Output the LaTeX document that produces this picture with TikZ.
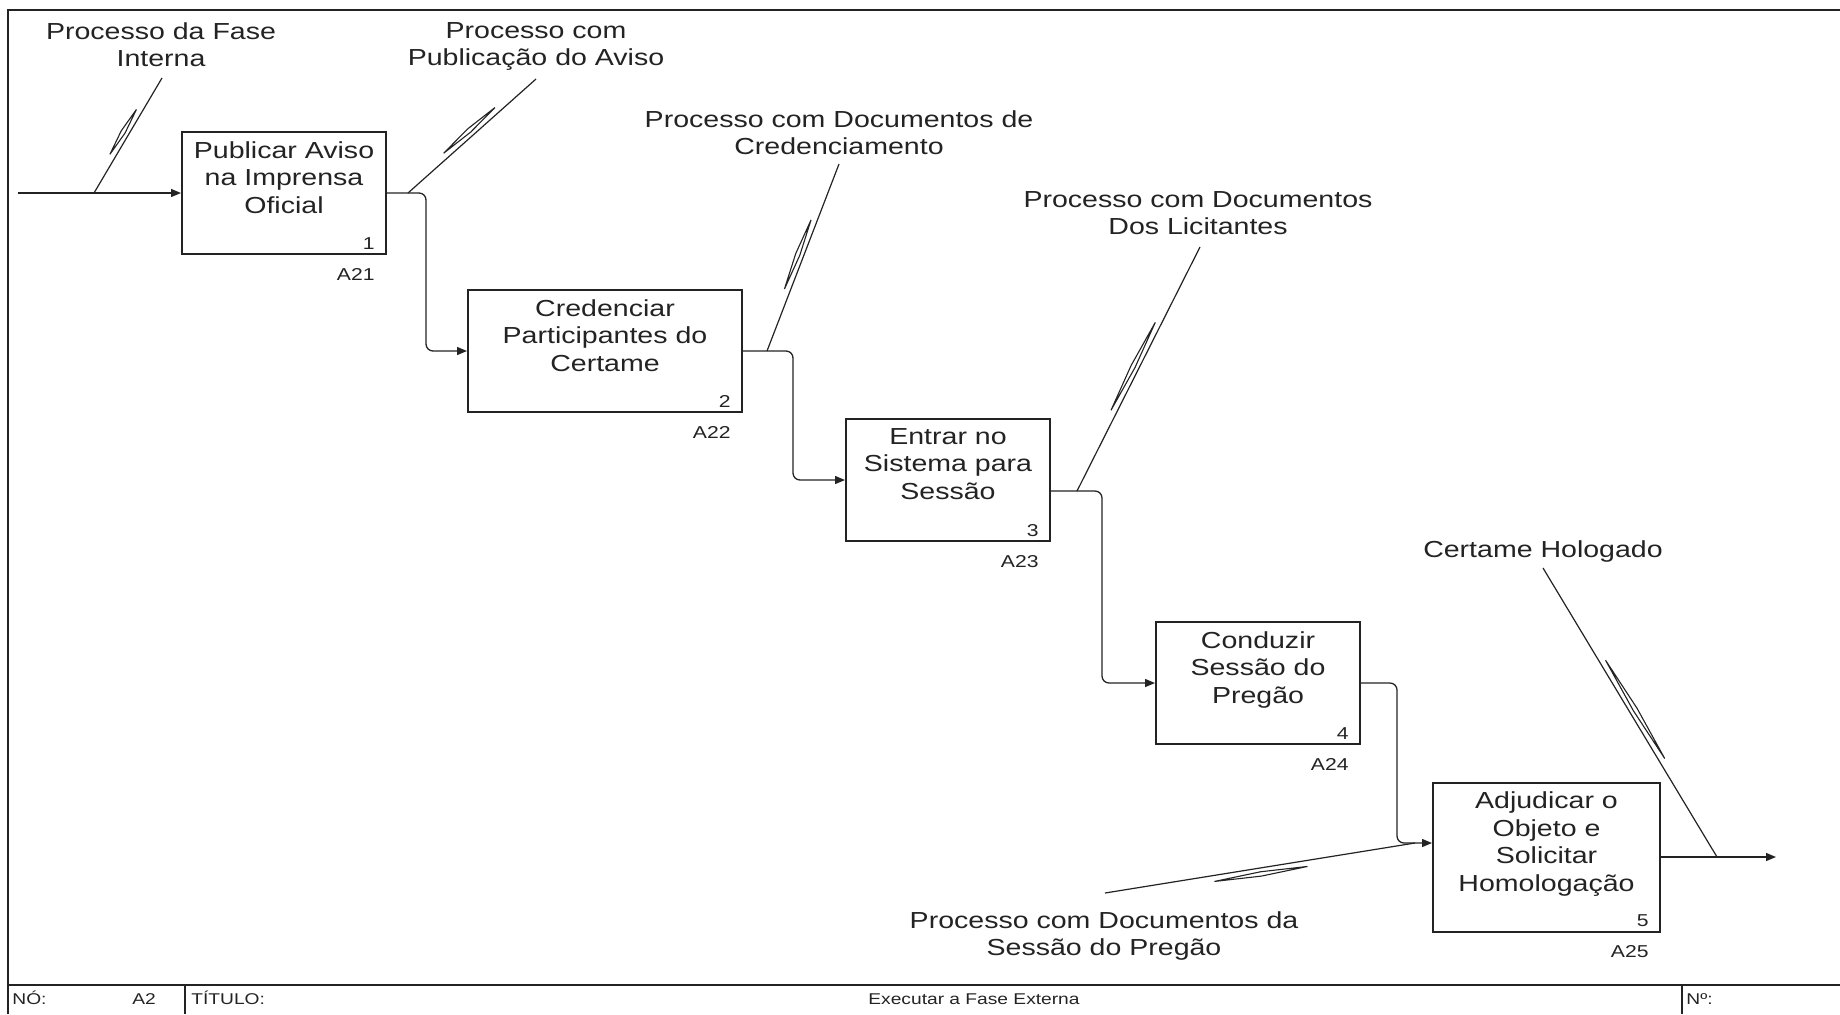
\documentclass[tikz,border=0pt]{standalone}
\usepackage{fontspec}
\setmainfont{Liberation Sans}[FakeStretch=1.23]
\usetikzlibrary{arrows.meta,calc}
\definecolor{ink}{RGB}{35,35,35}
% IDEF0 tunnel mark: a thin needle set beside a leader line
% #1,#2 = leader ends, #3,#4 = fractions along it, #5 = side (90 or -90)
\newcommand\tunnelmark[5]{%
  \coordinate (tA) at ($(#1)!#3!(#2)!3pt!#5:(#2)$);
  \coordinate (tB) at ($(#1)!#4!(#2)!3pt!#5:(#2)$);
  \draw[tunnel] (tA) -- ($(tA)!.5!(tB)!1.1pt!90:(tB)$) -- (tB)
    -- ($(tA)!.5!(tB)!1.1pt!-90:(tB)$) -- cycle;}
\begin{document}
\begin{tikzpicture}[x=0.5pt,y=-0.5pt,
  act/.style={draw=ink, line width=1pt, inner sep=0pt, minimum width=102pt, minimum height=61pt},
  acttext/.style={font=\fontsize{11.6}{13.75}\selectfont, align=center, inner sep=0pt, anchor=north, text=ink},
  lbl/.style={font=\fontsize{11.6}{13.75}\selectfont, align=center, inner sep=0pt, anchor=north, text=ink},
  num/.style={font=\fontsize{8.6}{10}\selectfont, inner sep=0pt, anchor=base east, text=ink},
  foot/.style={font=\fontsize{7.8}{9}\selectfont, inner sep=0pt, anchor=base west, text=ink},
  flow/.style={draw=ink, line width=0.65pt, rounded corners=3.5pt, -{Triangle[length=5pt,width=4pt]}},
  leader/.style={draw=ink, line width=0.6pt},
  tunnel/.style={draw=ink, line width=0.55pt, line join=miter},
  frame/.style={draw=ink, line width=1pt}]
\useasboundingbox (0,0) rectangle (1840,1014);

% sheet frame and title block
\draw[frame] (8,1014) -- (8,10) -- (1840,10);
\draw[frame] (8,985) -- (1840,985);
\draw[frame] (185,985) -- (185,1014);
\draw[frame] (1682,985) -- (1682,1014);
\node[foot] (fno) at (12,1004) {NÓ:};
\node[foot, anchor=base] (fnode) at (144,1004) {A2};
\node[foot] (ftit) at (191,1004) {TÍTULO:};
\node[foot, anchor=base] (ftitle) at (974,1004) {Executar a Fase Externa};
\node[foot] (fnum) at (1686,1004) {Nº:};

% activity boxes
\node[act] (b1) at (284,193) {};
\node[act, minimum width=137pt] (b2) at (605,351) {};
\node[act] (b3) at (948,480) {};
\node[act] (b4) at (1258,683) {};
\node[act, minimum width=113.5pt, minimum height=74.5pt] (b5) at (1546.5,857) {};

\node[acttext] (t1) at ($(b1.north)+(0,10)$) {Publicar Aviso\\na Imprensa\\Oficial};
\node[acttext] (t2) at ($(b2.north)+(0,10)$) {Credenciar\\Participantes do\\Certame};
\node[acttext] (t3) at ($(b3.north)+(0,10)$) {Entrar no\\Sistema para\\Sessão};
\node[acttext] (t4) at ($(b4.north)+(0,10)$) {Conduzir\\Sessão do\\Pregão};
\node[acttext] (t5) at ($(b5.north)+(0,10)$) {Adjudicar o\\Objeto e\\Solicitar\\Homologação};

\foreach \b/\n in {b1/1,b2/2,b3/3,b4/4,b5/5}{
  \node[num] (\b-n) at ($(\b.south east)+(-12,-6)$) {\n};
  \node[num] (\b-a) at ($(\b.south east)+(-12,25)$) {A2\n};
}

% arrow labels
\node[lbl] (l1) at (161,22) {Processo da Fase\\Interna};
\node[lbl] (l2) at (536,22) {Processo com\\Publicação do Aviso};
\node[lbl] (l3) at (839,110) {Processo com Documentos de\\Credenciamento};
\node[lbl] (l4) at (1198,191) {Processo com Documentos\\Dos Licitantes};
\node[lbl] (l5) at (1104,911) {Processo com Documentos da\\Sessão do Pregão};
\node[lbl] (l6) at (1543,540) {Certame Hologado};

% connector end points
\coordinate (in) at (18,193);
\coordinate (out) at (1776,857);
\coordinate (j1) at (94,193);
\coordinate (j2) at (408,193);
\coordinate (j3) at (767,351);
\coordinate (j4) at (1077,491);
\coordinate (j5) at (1415,843);
\coordinate (j6) at (1717,857);
\coordinate (c1) at (162,78);
\coordinate (c2) at (536,79);
\coordinate (c3) at (839,164);
\coordinate (c4) at (1200,247);
\coordinate (c5) at (1105,893);
\coordinate (c6) at (1543,568);

% flows between activities
\draw[flow] (in) -- (b1.west);
\draw[flow] (b1.east) -- (426,193) |- (b2.west);
\draw[flow] (b2.east) -- (793,351) |- (b3.west);
\draw[flow] ($(b3.east)+(0,11)$) -- (1102,491) |- (b4.west);
\draw[flow] (b4.east) -- (1397,683) |- ($(b5.west)+(0,-14)$);
\draw[flow] (b5.east) -- (out);

% label leaders
\draw[leader] (c1) -- (j1);
\draw[leader] (c2) -- (j2);
\draw[leader] (c3) -- (j3);
\draw[leader] (c4) -- (j4);
\draw[leader] (c5) -- (j5);
\draw[leader] (c6) -- (j6);

% tunnel marks
\tunnelmark{c1}{j1}{0.30}{0.69}{-90}
\tunnelmark{c2}{j2}{0.29}{0.69}{-90}
\tunnelmark{c3}{j3}{0.31}{0.68}{-90}
\tunnelmark{c4}{j4}{0.32}{0.68}{-90}
\tunnelmark{c5}{j5}{0.35}{0.65}{-90}
\tunnelmark{c6}{j6}{0.33}{0.67}{90}
\end{tikzpicture}
\end{document}
